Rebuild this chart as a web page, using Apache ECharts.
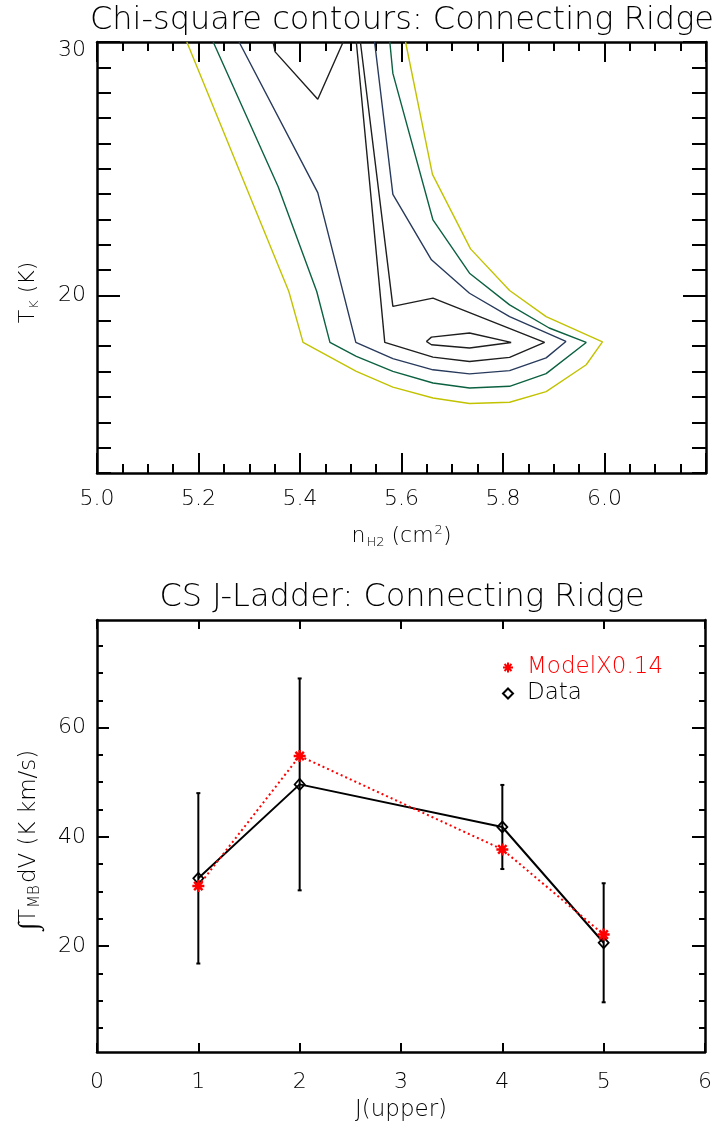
<!DOCTYPE html>
<html><head><meta charset="utf-8">
<script src="https://cdn.jsdelivr.net/npm/echarts@6/dist/echarts.min.js"></script>
<style>html,body{margin:0;padding:0;background:#fff}#c{width:715px;height:1133px}</style>
</head><body><div id="c"></div>
<script>
// ---------- Top panel: chi-square contour polylines, points are [log n(H2), T_K] ----------
const contourLevel1 = [[5.177,30],[5.378,20.16],[5.406,18.15],[5.511,17.01],[5.583,16.39],[5.662,15.96],[5.734,15.74],[5.813,15.79],[5.885,16.21],[5.964,17.27],[5.996,18.17],[5.885,19.17],[5.813,20.20],[5.736,21.84],[5.661,24.78],[5.608,30]];
const contourLevel2 = [[5.229,30],[5.357,24.29],[5.433,20.16],[5.459,18.15],[5.511,17.60],[5.583,17.01],[5.662,16.55],[5.734,16.35],[5.813,16.42],[5.885,16.92],[5.964,18.15],[5.891,18.72],[5.813,19.63],[5.734,20.88],[5.662,22.98],[5.583,28.76],[5.577,30]];
const contourLevel3 = [[5.280,30],[5.435,24.06],[5.510,18.15],[5.583,17.51],[5.662,17.07],[5.734,16.91],[5.813,17.04],[5.885,17.54],[5.924,18.19],[5.813,19.17],[5.734,20.09],[5.659,21.41],[5.583,23.99],[5.547,30]];
const contourLevel4 = [[5.511,30],[5.567,18.15],[5.662,17.57],[5.734,17.40],[5.813,17.56],[5.882,18.15],[5.662,19.90],[5.583,19.57],[5.519,30]];
const contourLevel4b = [[5.347,30],[5.351,29.61],[5.435,27.74],[5.485,30]];
const contourLevel5 = [[5.649,18.19],[5.659,18.36],[5.734,18.52],[5.816,18.15],[5.734,17.93],[5.659,18.06],[5.649,18.19]];
const topYMajorTicks = [20, 30];

// ---------- Bottom panel: CS J-ladder ----------
const jUpper = [1, 2, 4, 5];
const dataValues = [32.4, 49.6, 41.8, 20.6];
const dataErrors = [15.6, 19.4, 7.7, 10.9];
const modelValues = [31.0, 54.8, 37.7, 22.1];
const bottomYMajorTicks = [20, 40, 60];
const bottomYMinorTicks = [5, 10, 15, 25, 30, 35, 45, 50, 55, 65, 70, 75];

const FONT = 'DejaVu Sans';
const TXT = '#000';
const FW = 200;

const dataPoints = jUpper.map((j, i) => [j, dataValues[i]]);
const modelPoints = jUpper.map((j, i) => [j, modelValues[i]]);
const errorBars = jUpper.map((j, i) => [j, dataValues[i] - dataErrors[i], dataValues[i] + dataErrors[i]]);

const axisLineStyle = { lineStyle: { color: '#000', width: 2.5 } };
function tick(len, extra) { return Object.assign({ show: true, inside: true, length: len, lineStyle: { color: '#000', width: 2 } }, extra || {}); }
const labelStyle = { fontFamily: FONT, fontSize: 22, color: TXT, fontWeight: FW };
const nameRich = {
  a: { fontFamily: FONT, fontSize: 22, color: TXT, fontWeight: FW },
  s: { fontFamily: FONT, fontSize: 13, color: TXT, fontWeight: FW, padding: [12, 0, 0, 1] },
  p: { fontFamily: FONT, fontSize: 13, color: TXT, fontWeight: FW, padding: [0, 0, 12, 1] }
};
const bigRich = {
  a: { fontFamily: FONT, fontSize: 23, color: TXT, fontWeight: FW },
  i: { fontFamily: FONT, fontSize: 27, color: TXT, fontWeight: FW },
  s: { fontFamily: FONT, fontSize: 15, color: TXT, fontWeight: FW, padding: [12, 2, 0, 1] }
};

const asterisk = 'path://M0,5L10,5M5,0L5,10M1.5,1.5L8.5,8.5M8.5,1.5L1.5,8.5';

function contourSeries(data, color) {
  return { type: 'line', xAxisIndex: 0, yAxisIndex: 0, data: data, showSymbol: false, symbol: 'none',
    lineStyle: { color: color, width: 1.4 }, silent: true, z: 3 };
}

const option = {
  animation: false,
  backgroundColor: '#fff',
  title: [
    { text: 'Chi-square contours: Connecting Ridge', left: 402, top: 5, textAlign: 'center', padding: 0,
      textStyle: { fontFamily: FONT, fontSize: 32, fontWeight: FW, color: TXT } },
    { text: 'CS J-Ladder: Connecting Ridge', left: 402, top: 582, textAlign: 'center', padding: 0,
      textStyle: { fontFamily: FONT, fontSize: 32, fontWeight: FW, color: TXT } }
  ],
  grid: [
    { left: 97, top: 42, width: 609, height: 431 },
    { left: 97, top: 620, width: 610, height: 432 }
  ],
  legend: {
    orient: 'vertical', left: 497, top: 651, itemWidth: 10, itemHeight: 10, itemGap: 3,
    selectedMode: false,
    data: [
      { name: 'ModelX0.14', icon: asterisk, textStyle: { color: '#ff0000' } },
      { name: 'Data', icon: 'diamond', textStyle: { color: '#000' } }
    ],
    textStyle: { fontFamily: FONT, fontSize: 23, fontWeight: FW, padding: [0, 0, 0, 9] }
  },
  xAxis: [
    { gridIndex: 0, type: 'value', position: 'bottom', min: 5, max: 6.2, interval: 0.2,
      axisLine: axisLineStyle, axisTick: tick(20), minorTick: { show: true, splitNumber: 4, length: 9, lineStyle: { color: '#000', width: 2 } },
      splitLine: { show: false },
      axisLabel: Object.assign({ margin: 15, formatter: v => v > 6.1 ? '' : v.toFixed(1) }, labelStyle),
      name: '{a|n}{s|H2}{a| (cm}{p|2}{a|)}', nameLocation: 'middle', nameGap: 51,
      nameTextStyle: { rich: nameRich } },
    { gridIndex: 0, type: 'value', position: 'top', min: 5, max: 6.2, interval: 0.2,
      axisLine: axisLineStyle, axisTick: tick(20), minorTick: { show: true, splitNumber: 4, length: 9, lineStyle: { color: '#000', width: 2 } },
      splitLine: { show: false }, axisLabel: { show: false } },
    { gridIndex: 1, type: 'value', position: 'bottom', min: 0, max: 6, interval: 1,
      axisLine: axisLineStyle, axisTick: tick(9), splitLine: { show: false },
      axisLabel: Object.assign({ margin: 19 }, labelStyle),
      name: '{a|J(upper)}', nameLocation: 'middle', nameGap: 47, nameTextStyle: { rich: bigRich } },
    { gridIndex: 1, type: 'value', position: 'top', min: 0, max: 6, interval: 1,
      axisLine: axisLineStyle, axisTick: tick(9), splitLine: { show: false }, axisLabel: { show: false } }
  ],
  yAxis: [
    { gridIndex: 0, type: 'value', position: 'left', min: 13, max: 30,
      axisLine: axisLineStyle, axisTick: tick(23, { customValues: topYMajorTicks }), splitLine: { show: false },
      axisLabel: Object.assign({ margin: 11, customValues: topYMajorTicks,
        formatter: v => v >= 30 ? '{lo|' + v + '}' : '{n|' + v + '}',
        rich: { lo: Object.assign({ padding: [16, 0, 0, 0] }, labelStyle), n: Object.assign({}, labelStyle) } }, labelStyle),
      name: '{a|T}{s|K}{a| (K)}', nameLocation: 'middle', nameGap: 56, nameRotate: 90,
      nameTextStyle: { rich: nameRich, padding: [0, 70, 0, 0] } },
    { gridIndex: 0, type: 'value', position: 'left', min: 13, max: 30, interval: 1,
      axisLine: { show: false }, axisTick: tick(14), splitLine: { show: false }, axisLabel: { show: false } },
    { gridIndex: 0, type: 'value', position: 'right', min: 13, max: 30,
      axisLine: axisLineStyle, axisTick: tick(23, { customValues: topYMajorTicks }), splitLine: { show: false },
      axisLabel: { show: false, customValues: topYMajorTicks } },
    { gridIndex: 0, type: 'value', position: 'right', min: 13, max: 30, interval: 1,
      axisLine: { show: false }, axisTick: tick(14), splitLine: { show: false }, axisLabel: { show: false } },
    { gridIndex: 1, type: 'value', position: 'left', min: 0.6, max: 79.7,
      axisLine: axisLineStyle, axisTick: tick(12, { customValues: bottomYMajorTicks }), splitLine: { show: false },
      axisLabel: Object.assign({ margin: 11, customValues: bottomYMajorTicks }, labelStyle),
      name: '{i|∫}{a|T}{s|MB}{a|dV (K km/s)}', nameLocation: 'middle', nameGap: 54, nameRotate: 90,
      nameTextStyle: { rich: bigRich, padding: [0, 8, 0, 0] } },
    { gridIndex: 1, type: 'value', position: 'left', min: 0.6, max: 79.7,
      axisLine: { show: false }, axisTick: tick(6, { customValues: bottomYMinorTicks }), splitLine: { show: false },
      axisLabel: { show: false, customValues: bottomYMinorTicks } },
    { gridIndex: 1, type: 'value', position: 'right', min: 0.6, max: 79.7,
      axisLine: axisLineStyle, axisTick: tick(13, { customValues: bottomYMajorTicks }), splitLine: { show: false },
      axisLabel: { show: false, customValues: bottomYMajorTicks } },
    { gridIndex: 1, type: 'value', position: 'right', min: 0.6, max: 79.7,
      axisLine: { show: false }, axisTick: tick(6, { customValues: bottomYMinorTicks }), splitLine: { show: false },
      axisLabel: { show: false, customValues: bottomYMinorTicks } }
  ],
  series: [
    contourSeries(contourLevel1, '#c2c200'),
    contourSeries(contourLevel2, '#0b6140'),
    contourSeries(contourLevel3, '#283a5c'),
    contourSeries(contourLevel4, '#1e1e1e'),
    contourSeries(contourLevel4b, '#1e1e1e'),
    contourSeries(contourLevel5, '#1e1e1e'),
    { type: 'custom', xAxisIndex: 2, yAxisIndex: 4, data: errorBars, silent: true, z: 2,
      renderItem: function (params, api) {
        const x = api.value(0);
        const lo = api.coord([x, api.value(1)]);
        const hi = api.coord([x, api.value(2)]);
        const st = { stroke: '#000', lineWidth: 2 };
        return { type: 'group', children: [
          { type: 'line', shape: { x1: lo[0], y1: lo[1], x2: hi[0], y2: hi[1] }, style: st },
          { type: 'line', shape: { x1: lo[0] - 2, y1: lo[1], x2: lo[0] + 2, y2: lo[1] }, style: st },
          { type: 'line', shape: { x1: hi[0] - 2, y1: hi[1], x2: hi[0] + 2, y2: hi[1] }, style: st }
        ] };
      } },
    { name: 'Data', type: 'line', xAxisIndex: 2, yAxisIndex: 4, data: dataPoints, z: 3,
      symbol: 'diamond', symbolSize: [10, 11],
      lineStyle: { color: '#000', width: 2 },
      itemStyle: { color: 'rgba(0,0,0,0)', borderColor: '#000', borderWidth: 1.8 } },
    { name: 'ModelX0.14', type: 'line', xAxisIndex: 2, yAxisIndex: 4, data: modelPoints, z: 4,
      symbol: asterisk, symbolSize: 12,
      lineStyle: { color: '#ff0000', width: 2, type: [2, 3] },
      itemStyle: { color: '#ff0000', borderColor: '#ff0000', borderWidth: 2.5 } }
  ]
};

const chart = echarts.init(document.getElementById('c'), null, { renderer: 'canvas' });
chart.setOption(option);
</script>
</body></html>
